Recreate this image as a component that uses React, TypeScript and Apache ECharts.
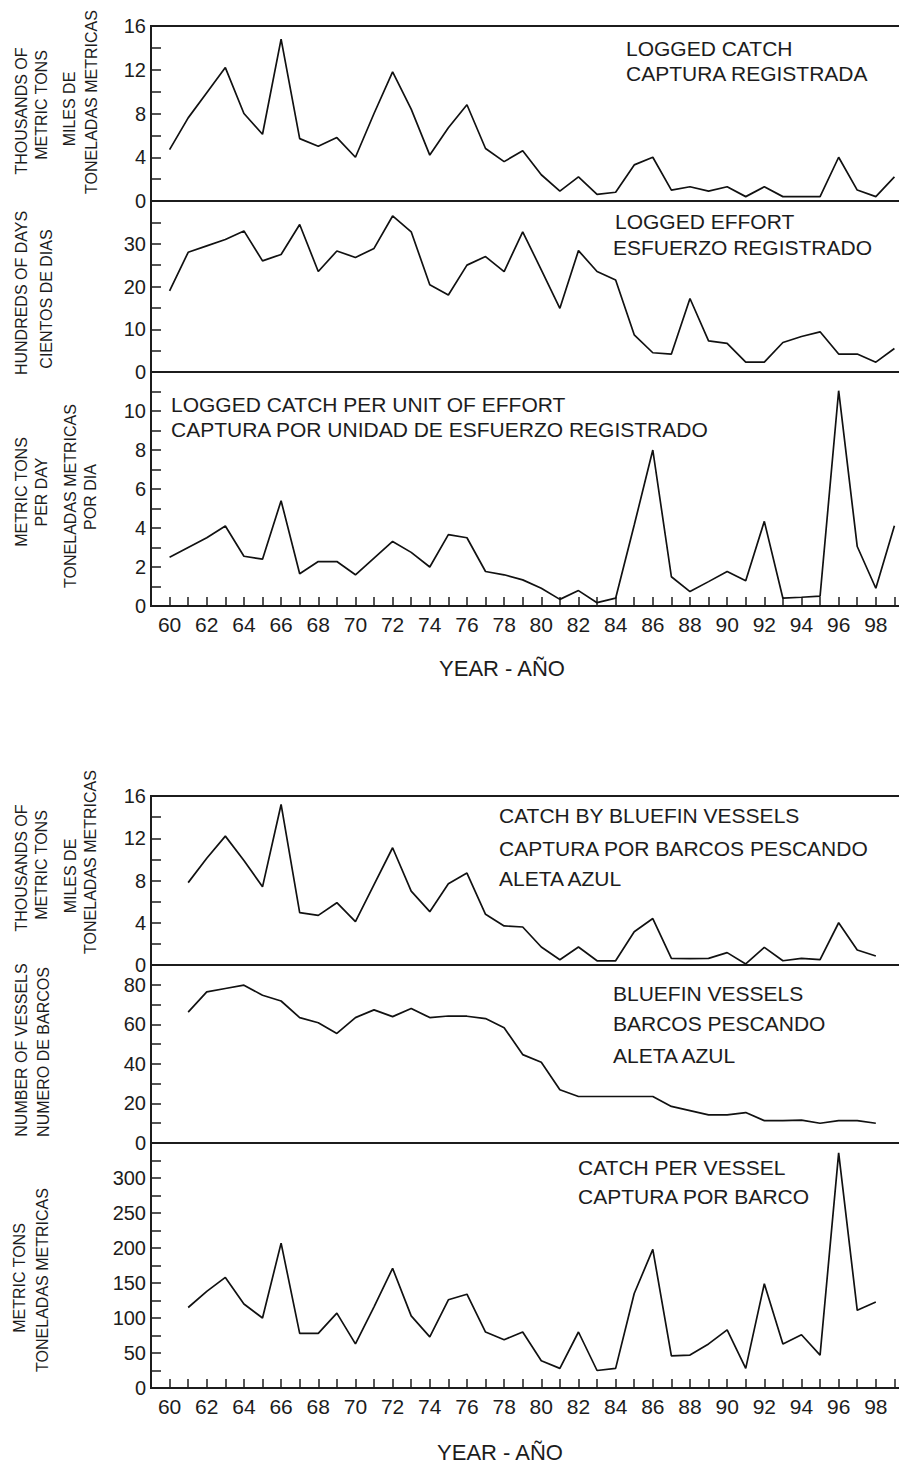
import React, { useEffect, useRef } from "react";
import * as echarts from "echarts";

const FONT = '"Liberation Sans", Arial, Helvetica, sans-serif';

// Years
const yearsA = [60,61,62,63,64,65,66,67,68,69,70,71,72,73,74,75,76,77,78,79,80,81,82,83,84,85,86,87,88,89,90,91,92,93,94,95,96,97,98,99];
const yearsB = [61,62,63,64,65,66,67,68,69,70,71,72,73,74,75,76,77,78,79,80,81,82,83,84,85,86,87,88,89,90,91,92,93,94,95,96,97,98];

// Top figure
const loggedCatch = [4.7,7.6,9.9,12.2,8.0,6.1,14.8,5.7,5.0,5.8,4.0,8.0,11.8,8.4,4.2,6.7,8.8,4.8,3.6,4.6,2.4,0.9,2.2,0.6,0.8,3.3,4.0,1.0,1.3,0.9,1.3,0.4,1.3,0.4,0.4,0.4,4.0,1.0,0.4,2.2];
const loggedEffort = [19,28,29.5,31,33,26,27.5,34.5,23.5,28.3,26.8,28.9,36.5,32.8,20.4,18,25,27,23.5,32.8,23.9,14.9,28.4,23.5,21.5,8.7,4.5,4.2,17.2,7.3,6.7,2.3,2.3,6.9,8.3,9.4,4.2,4.2,2.3,5.5];
const loggedCpue = [2.5,3.0,3.5,4.1,2.55,2.4,5.4,1.65,2.28,2.28,1.6,2.46,3.31,2.75,2.0,3.66,3.5,1.77,1.6,1.34,0.91,0.34,0.79,0.17,0.4,4.15,8.0,1.5,0.74,1.25,1.77,1.3,4.34,0.4,0.45,0.51,11.04,3.05,0.91,4.12];

// Bottom figure
const catchBluefin = [7.8,10.1,12.2,9.9,7.4,15.2,4.95,4.7,5.9,4.1,7.6,11.1,7.0,5.05,7.7,8.7,4.8,3.7,3.6,1.7,0.5,1.7,0.4,0.4,3.15,4.4,0.63,0.6,0.63,1.17,0.1,1.67,0.4,0.63,0.5,4.0,1.42,0.85];
const vessels = [66.2,76.4,78.1,79.8,74.7,71.8,63.4,60.8,55.4,63.4,67.3,63.9,68.0,63.4,64.2,64.1,62.9,58.3,44.7,40.8,26.9,23.5,23.5,23.5,23.5,23.5,18.5,16.4,14.2,14.2,15.4,11.3,11.3,11.6,10.0,11.3,11.3,10.0];
const catchPerVessel = [115,138,158,120,100,207,78,78,107,63,116,171,103,73,126,134,80,69,80,39,28,80,25,28,135,198,46,47,63,83,28,149,63,76,47,336,111,123];

const xTickLabels = [60,62,64,66,68,70,72,74,76,78,80,82,84,86,88,90,92,94,96,98];

const panels = [
  { top: 26, height: 175, max: 16, step: 2, labelStep: 4, hideMax: false, years: yearsA, values: loggedCatch, xLabels: false },
  { top: 201, height: 171, max: 40, step: 5, labelStep: 10, hideMax: true, years: yearsA, values: loggedEffort, xLabels: false },
  { top: 372, height: 234, max: 12, step: 1, labelStep: 2, hideMax: true, years: yearsA, values: loggedCpue, xLabels: true },
  { top: 796, height: 169, max: 16, step: 2, labelStep: 4, hideMax: false, years: yearsB, values: catchBluefin, xLabels: false },
  { top: 965, height: 178, max: 90, step: 10, labelStep: 20, hideMax: true, years: yearsB, values: vessels, xLabels: false },
  { top: 1143, height: 245, max: 350, step: 25, labelStep: 50, hideMax: true, years: yearsB, values: catchPerVessel, xLabels: true },
];

const vTitles: [string, number, number][] = [
  ["THOUSANDS OF", 21, 111], ["METRIC TONS", 41, 105], ["MILES DE", 69, 109], ["TONELADAS METRICAS", 91, 102],
  ["HUNDREDS OF DAYS", 21, 293], ["CIENTOS DE DIAS", 46, 299],
  ["METRIC TONS", 21, 492], ["PER DAY", 41, 492], ["TONELADAS METRICAS", 70, 496], ["POR DIA", 90, 497],
  ["THOUSANDS OF", 21, 868], ["METRIC TONS", 41, 865], ["MILES DE", 70, 876], ["TONELADAS METRICAS", 90, 862],
  ["NUMBER OF VESSELS", 21, 1050], ["NUMERO DE BARCOS", 43, 1052],
  ["METRIC TONS", 19, 1278], ["TONELADAS METRICAS", 42, 1280],
];

const annotations: [string, number, number][] = [
  ["LOGGED CATCH", 626, 48], ["CAPTURA REGISTRADA", 626, 73],
  ["LOGGED EFFORT", 615, 221], ["ESFUERZO REGISTRADO", 613, 247],
  ["LOGGED CATCH PER UNIT OF EFFORT", 171, 404], ["CAPTURA POR UNIDAD DE ESFUERZO REGISTRADO", 171, 429],
  ["CATCH BY BLUEFIN VESSELS", 499, 815], ["CAPTURA POR BARCOS PESCANDO", 499, 848], ["ALETA AZUL", 499, 878],
  ["BLUEFIN VESSELS", 613, 993], ["BARCOS PESCANDO", 613, 1023], ["ALETA AZUL", 613, 1055],
  ["CATCH PER VESSEL", 578, 1167], ["CAPTURA POR BARCO", 578, 1196],
];

const xTitles: [string, number, number][] = [
  ["YEAR - AÑO", 502, 668],
  ["YEAR - AÑO", 500, 1452],
];

const INK = "#1c1c1c";

export default function App() {
  const ref = useRef<HTMLDivElement>(null);
  useEffect(() => {
    if (!ref.current) return;
    const chart = echarts.init(ref.current, undefined, { renderer: "svg" });

    const grids = panels.map((p) => ({
      left: 151, width: 762, top: p.top, height: p.height,
      outerBoundsMode: "none", containLabel: false,
      show: true, borderColor: INK, borderWidth: 2, backgroundColor: "transparent",
    }));

    const xAxes = panels.map((p, i) => ({
      type: "value", gridIndex: i, min: 59, max: 100, interval: 1,
      show: p.xLabels,
      axisLine: { show: true, lineStyle: { color: INK, width: 2 } },
      axisTick: { show: true, inside: true, length: 9, lineStyle: { color: INK, width: 1.5 } },
      splitLine: { show: false },
      axisLabel: {
        show: true, margin: 8, fontSize: 21, fontFamily: FONT, color: INK,
        showMinLabel: true, showMaxLabel: true, hideOverlap: false,
        formatter: (v: number) => (xTickLabels.indexOf(v) >= 0 ? String(v) : ""),
      },
    }));

    const yAxes = panels.map((p, i) => ({
      type: "value", gridIndex: i, min: 0, max: p.max, interval: p.step,
      axisLine: { show: true, lineStyle: { color: INK, width: 2 } },
      axisTick: { show: true, inside: true, length: 10, lineStyle: { color: INK, width: 1.5 } },
      splitLine: { show: false },
      axisLabel: {
        show: true, margin: 5, fontSize: 20, fontFamily: FONT, color: INK,
        showMinLabel: true, showMaxLabel: true, hideOverlap: false,
        formatter: (v: number) => {
          if (v % p.labelStep !== 0) return "";
          if (p.hideMax && v === p.max) return "";
          return String(v);
        },
      },
    }));

    const series = panels.map((p, i) => ({
      type: "line", xAxisIndex: i, yAxisIndex: i, symbol: "none",
      lineStyle: { color: "#111", width: 1.7 },
      data: p.years.map((y, k) => [y, p.values[k]]),
    }));

    const graphic: any[] = [];
    vTitles.forEach(([t, x, y]) => graphic.push({
      type: "text", x, y, rotation: Math.PI / 2,
      style: { text: t, fontSize: 16, fontFamily: FONT, fill: INK, align: "center", verticalAlign: "middle" },
    }));
    annotations.forEach(([t, x, y]) => graphic.push({
      type: "text", x, y,
      style: { text: t, fontSize: 21, fontFamily: FONT, fill: INK, align: "left", verticalAlign: "middle" },
    }));
    xTitles.forEach(([t, x, y]) => graphic.push({
      type: "text", x, y,
      style: { text: t, fontSize: 22, fontFamily: FONT, fill: INK, align: "center", verticalAlign: "middle" },
    }));

    chart.setOption({
      animation: false,
      backgroundColor: "#ffffff",
      grid: grids,
      xAxis: xAxes,
      yAxis: yAxes,
      series,
      graphic,
    } as any);
    return () => chart.dispose();
  }, []);
  return <div ref={ref} style={{ position: "absolute", left: 0, top: 0, width: 899, height: 1465 }} />;
}
